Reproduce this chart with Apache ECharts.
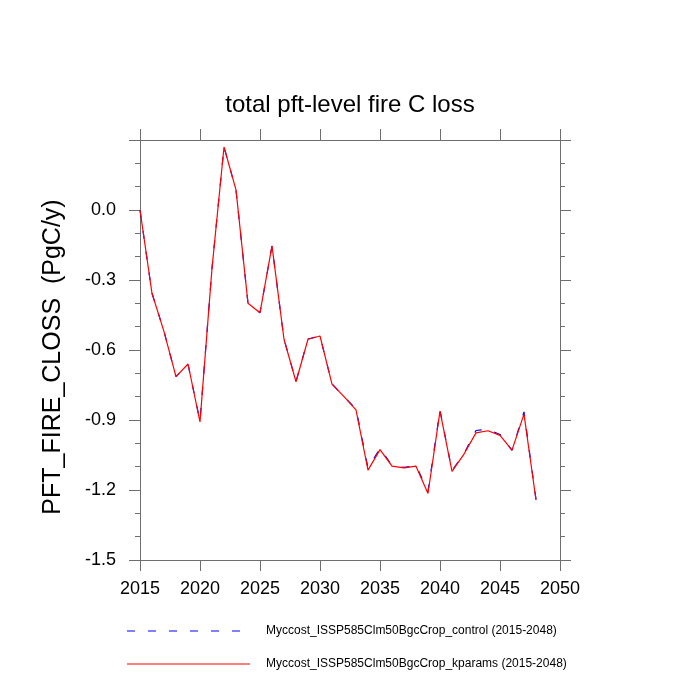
<!DOCTYPE html>
<html>
<head>
<meta charset="utf-8">
<script src="https://cdn.jsdelivr.net/npm/echarts@6/dist/echarts.min.js"></script>
<style>
  html, body { margin: 0; padding: 0; background: #fff; }
  #chart { width: 700px; height: 700px; }
</style>
</head>
<body>
<div id="chart"></div>
<script>
var years = [];
for (var y = 2015; y <= 2048; y++) years.push(y);

var controlVals = [0.0, -0.357, -0.52, -0.714, -0.66, -0.905, -0.25, 0.27, 0.086, -0.40,
    -0.44, -0.155, -0.553, -0.735, -0.553, -0.54, -0.745, -0.80, -0.852, -1.105,
    -1.022, -1.095, -1.103, -1.095, -1.205, -0.858, -1.117, -1.044, -0.945, -0.94,
    -0.962, -1.03, -0.865, -1.24];
var kparamsVals = [0.0, -0.357, -0.521, -0.714, -0.66, -0.908, -0.25, 0.27, 0.086, -0.40,
    -0.44, -0.154, -0.554, -0.736, -0.554, -0.54, -0.746, -0.80, -0.857, -1.115,
    -1.027, -1.098, -1.105, -1.098, -1.215, -0.862, -1.12, -1.046, -0.955, -0.946,
    -0.966, -1.029, -0.875, -1.243];

var controlName = 'Myccost_ISSP585Clm50BgcCrop_control (2015-2048)';
var kparamsName = 'Myccost_ISSP585Clm50BgcCrop_kparams (2015-2048)';

var axisGray = '#6e6e6e';
var font = 'Liberation Sans, Arial, Helvetica, sans-serif';

function pairs(vals) {
    var out = [];
    for (var i = 0; i < years.length; i++) out.push([years[i], vals[i]]);
    return out;
}

function xAxisCfg(pos, showLabel) {
    return {
        type: 'value', position: pos, min: 2015, max: 2050, interval: 5,
        axisLine: { show: true, onZero: false, lineStyle: { color: axisGray, width: 1 } },
        axisTick: { show: true, inside: false, length: 11, lineStyle: { color: axisGray } },
        axisLabel: {
            show: showLabel, margin: 20, color: '#000', fontSize: 18, fontFamily: font,
            formatter: function (v) { return String(v); }
        },
        splitLine: { show: false }
    };
}

function yAxisCfg(pos, showLabel) {
    return {
        type: 'value', position: pos, min: -1.5, max: 0.3, interval: 0.3,
        axisLine: { show: true, onZero: false, lineStyle: { color: axisGray, width: 1 } },
        axisTick: { show: true, inside: false, length: 11, lineStyle: { color: axisGray } },
        minorTick: { show: true, splitNumber: 3, length: 5, lineStyle: { color: axisGray } },
        axisLabel: {
            show: showLabel, margin: 24, color: '#000', fontSize: 18, fontFamily: font,
            formatter: function (v) { return v > 0.05 ? '' : v.toFixed(1); }
        },
        splitLine: { show: false }
    };
}

var chart = echarts.init(document.getElementById('chart'));
var yLeft = yAxisCfg('left', true);
yLeft.name = 'PFT_FIRE_CLOSS  (PgC/y)';
yLeft.nameLocation = 'middle';
yLeft.nameGap = 74;
yLeft.nameTextStyle = { color: '#000', fontSize: 25, fontFamily: font, padding: [0, 14, 0, 0] };

chart.setOption({
    animation: false,
    title: {
        text: 'total pft-level fire C loss', left: 'center', top: 88,
        textStyle: { color: '#000', fontSize: 24, fontWeight: 'normal', fontFamily: font }
    },
    legend: [{
        data: [controlName], left: 126, top: 625, padding: 0, itemWidth: 115, itemHeight: 14,
        lineStyle: { opacity: 0.5 }, itemStyle: { opacity: 0 },
        textStyle: { color: '#000', fontSize: 12, fontFamily: font, padding: [0, 0, 0, 19] }
    }, {
        data: [kparamsName], left: 126, top: 658, padding: 0, itemWidth: 123, itemHeight: 14,
        lineStyle: { opacity: 0.5 }, itemStyle: { opacity: 0 },
        textStyle: { color: '#000', fontSize: 12, fontFamily: font, padding: [0, 0, 0, 11] }
    }],
    grid: { left: 140, top: 140, width: 420, height: 420 },
    xAxis: [xAxisCfg('bottom', true), xAxisCfg('top', false)],
    yAxis: [yLeft, yAxisCfg('right', false)],
    series: [{
        name: controlName, type: 'line', data: pairs(controlVals),
        symbol: 'none', lineStyle: { color: '#0000ff', width: 1.2, type: [8, 13] },
        itemStyle: { color: '#0000ff' }
    }, {
        name: kparamsName, type: 'line', data: pairs(kparamsVals),
        symbol: 'none', lineStyle: { color: '#ff0000', width: 1.2 },
        itemStyle: { color: '#ff0000' }
    }]
});
</script>
</body>
</html>
